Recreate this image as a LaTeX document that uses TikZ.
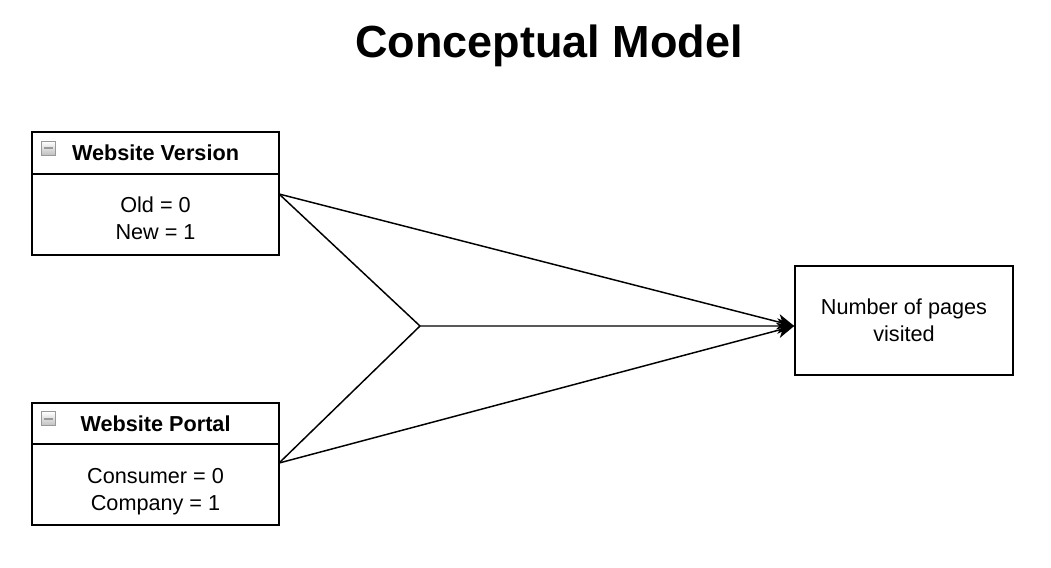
\documentclass[tikz,border=0pt]{standalone}
\usepackage{fontspec}
\setmainfont{Liberation Sans}
\usetikzlibrary{positioning,arrows.meta,calc}
\newcommand{\topgap}[1]{\rule{0pt}{#1}}

\begin{document}
\begin{tikzpicture}[x=0.025cm, y=-0.025cm, line width=1.05pt,
  every node/.style={font=\fontsize{15.4}{19.2}\selectfont},
  head/.style={rectangle,draw,outer sep=0pt,minimum width=6.175cm,minimum height=1.05cm,anchor=north west,font=\fontsize{15.4}{19.2}\selectfont\bfseries},
  body/.style={rectangle,draw,outer sep=0pt,minimum width=6.175cm,minimum height=2.025cm,align=center},
  icon/.style={rectangle,draw=gray!80,line width=0.6pt,top color=white,bottom color=gray!50,minimum size=0.35cm,inner sep=0pt,
    path picture={\draw[line width=1.5pt] ([xshift=1.5pt]path picture bounding box.west) -- ([xshift=-1.5pt]path picture bounding box.east);}},
  link/.style={-{Stealth[length=12pt,width=11pt,inset=3.5pt]}}]
  \useasboundingbox (0,0) rectangle (1051,567);

  \node[font=\fontsize{32}{38}\selectfont\bfseries] (title) at (549,46) {Conceptual Model};

  \node[head] (verhead) at (32,132) {Website Version};
  \node[body,below=0pt of verhead] (verbody) {\topgap{17pt}Old = 0\\New = 1};
  \node[icon,right=0.225cm of verhead.west,yshift=0.12cm] (vericon) {};

  \node[head,minimum height=1.025cm] (porthead) at (32,403) {Website Portal};
  \node[body,below=0pt of porthead] (portbody) {\topgap{21pt}Consumer = 0\\Company = 1};
  \node[icon,right=0.225cm of porthead.west,yshift=0.12cm] (porticon) {};

  \node[rectangle,draw,minimum width=5.45cm,minimum height=2.725cm,align=center] (pages) at (904,320.5) {Number of pages\\visited};

  \coordinate (verout) at ($(verbody.north east)+(0,20)$);
  \coordinate (portout) at ($(portbody.north east)+(0,19)$);
  \coordinate (pagesin) at ($(pages.west)+(0,5.5)$);
  \coordinate (joint) at (420,326);

  \draw[link] (verout) -- (pagesin);
  \draw (verout) -- (joint);
  \draw (portout) -- (joint);
  \draw[link] (joint) -- (pagesin);
  \draw[link] (portout) -- (pagesin);
\end{tikzpicture}
\end{document}
